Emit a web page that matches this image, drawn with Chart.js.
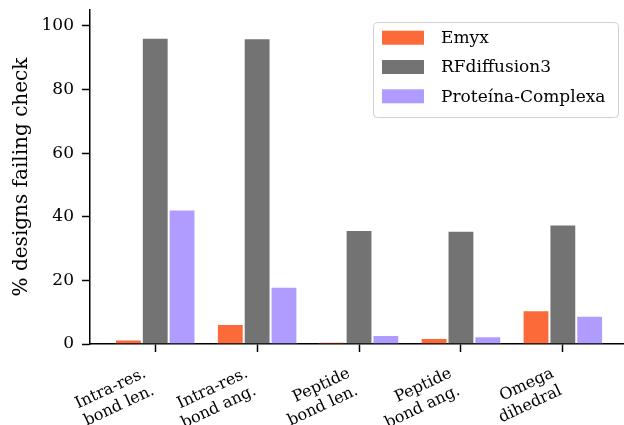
<!DOCTYPE html>
<html>
<head>
<meta charset="utf-8">
<script src="https://cdn.jsdelivr.net/npm/chart.js@4.4.1/dist/chart.umd.min.js"></script>
<style>
	html, body { margin: 0; padding: 0; background: #fff; }
	#wrap { width: 624px; height: 425px; }
</style>
</head>
<body>
<div id="wrap"><canvas id="myChart"></canvas></div>
<script>
// 数据
const categories = [
	['Intra-res.', 'bond len.'],
	['Intra-res.', 'bond ang.'],
	['Peptide', 'bond len.'],
	['Peptide', 'bond ang.'],
	['Omega', 'dihedral']
];
const seriesNames = ['Emyx', 'RFdiffusion3', 'Proteína-Complexa'];
const emyx = [1.4, 6.3, 0.7, 1.9, 10.6];
const rfdiffusion3 = [96.3, 96.1, 35.8, 35.6, 37.6];
const proteina = [42.3, 18.0, 2.8, 2.4, 8.9];
const yTicks = [0, 20, 40, 60, 80, 100];

const colors = ['#fd6a3a', '#737373', '#b09cff'];
const serif = "'DejaVu Serif', serif";

const toPoints = arr => arr.map((v, i) => ({ x: i, y: v }));
const datasets = [emyx, rfdiffusion3, proteina].map((arr, k) => ({
	label: seriesNames[k],
	data: toPoints(arr),
	backgroundColor: colors[k],
	borderColor: 'rgba(255,255,255,0.45)',
	borderWidth: 1,
	categoryPercentage: 0.79,
	barPercentage: 1
}));

// legend drawn inside the plot, top right
const legendBox = {
	id: 'legendBox',
	afterDraw(chart) {
		const c = chart.ctx;
		const x0 = 373, y0 = 22, w = 245, h = 95;
		c.save();
		c.fillStyle = 'rgba(255,255,255,0.8)';
		c.strokeStyle = '#d0d0d0';
		c.lineWidth = 1;
		c.beginPath();
		c.roundRect(x0 + 0.5, y0 + 0.5, w, h, 4);
		c.fill();
		c.stroke();
		c.font = '17px ' + serif;
		c.textBaseline = 'middle';
		chart.data.datasets.forEach((ds, i) => {
			const cy = 37.7 + i * 29.3;
			c.fillStyle = ds.backgroundColor;
			c.fillRect(382, cy - 7, 42, 14);
			c.fillStyle = '#000';
			c.fillText(ds.label, 441, cy + 1);
		});
		c.restore();
	}
};

new Chart(document.getElementById('myChart'), {
	type: 'bar',
	data: { datasets: datasets },
	options: {
		animation: false,
		responsive: true,
		maintainAspectRatio: false,
		layout: { padding: { top: 10, right: 0, left: 0, bottom: 0 } },
		plugins: {
			legend: { display: false },
			tooltip: { enabled: false }
		},
		scales: {
			x: {
				type: 'linear',
				offset: false,
				min: -0.64,
				max: 4.6,
				afterBuildTicks: scale => { scale.ticks = categories.map((c, i) => ({ value: i })); },
				afterFit: scale => { scale.height = 81; },
				grid: { display: true, offset: false, drawOnChartArea: false, drawTicks: true, tickLength: 8, tickWidth: 1.5, tickColor: '#000' },
				border: { display: true, color: '#000', width: 1.5 },
				ticks: {
					autoSkip: false,
					maxRotation: 25,
					minRotation: 25,
					padding: 12,
					labelOffset: -10,
					color: '#000',
					font: { family: serif, size: 16 },
					callback: value => categories[value]
				}
			},
			y: {
				min: 0,
				max: 105,
				afterBuildTicks: scale => { scale.ticks = yTicks.map(v => ({ value: v })); },
				afterFit: scale => {
					scale.width = 90;
					scale.paddingTop = 0;
					scale.paddingBottom = 0;
				},
				grid: { display: true, drawOnChartArea: false, drawTicks: true, tickLength: 8, tickWidth: 1.5, tickColor: '#000' },
				border: { display: true, color: '#000', width: 1.5 },
				ticks: {
					padding: 8,
					color: '#000',
					font: { family: serif, size: 17 }
				},
				title: {
					display: true,
					text: '% designs failing check',
					color: '#000',
					font: { family: serif, size: 20 },
					padding: { top: 10, bottom: 0 }
				}
			}
		}
	},
	plugins: [legendBox]
});
</script>
</body>
</html>
